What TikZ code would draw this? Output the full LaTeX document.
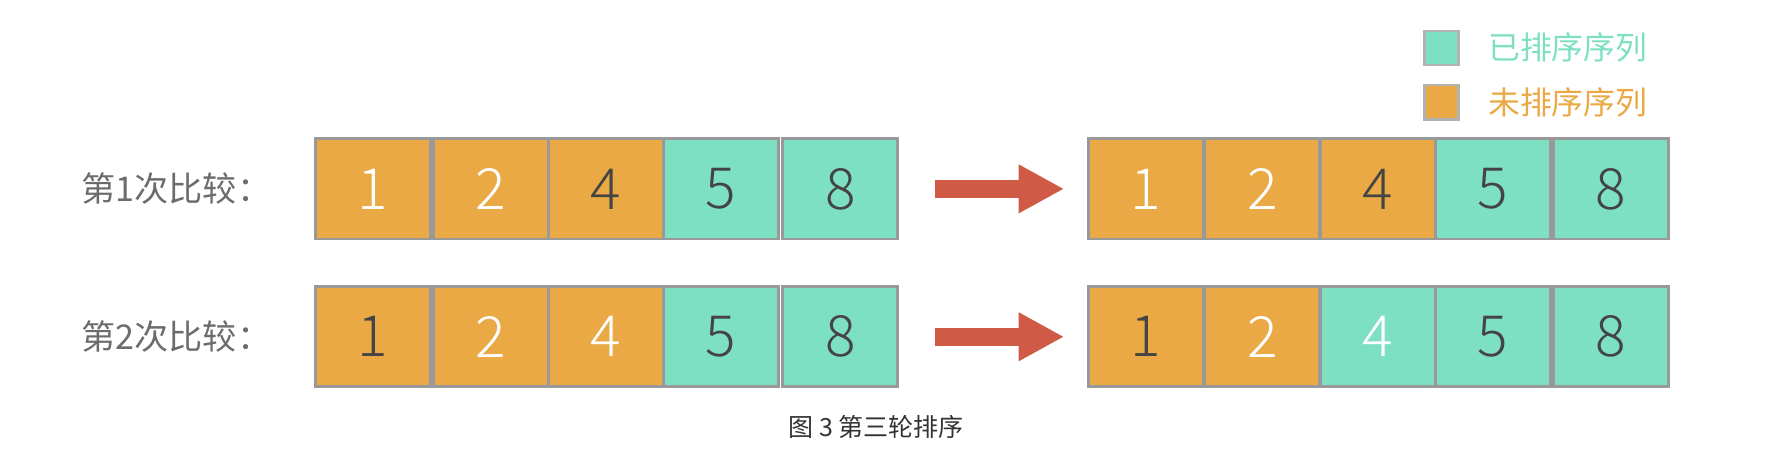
\documentclass[tikz,border=0pt]{standalone}
\usepackage{fontspec}
\setmainfont{Noto Sans CJK SC}
\newfontfamily\lightfont{Noto Sans CJK SC Light}
\usetikzlibrary{positioning,arrows.meta}
\definecolor{unsorted}{HTML}{EAA944}
\definecolor{sorted}{HTML}{7EE0C3}
\definecolor{digit}{HTML}{444444}
\definecolor{arrowred}{HTML}{CF5A45}
\begin{document}
\begin{tikzpicture}[x=0.5pt,y=-0.5pt,
		cell/.style={draw=gray!80,line width=1.2pt,minimum width=50.5pt,
			minimum height=44pt,inner sep=0pt,font=\lightfont\fontsize{25}{25}\selectfont},
		key/.style={draw=gray!60,line width=1pt,minimum width=15pt,minimum height=15pt,inner sep=0pt},
		rowlabel/.style={font=\fontsize{15}{15}\selectfont,text=gray!85!black},
		step arrow/.style={arrowred,line width=8pt,-{Triangle[length=20pt,width=20pt]}}]

		\useasboundingbox (0,0) rectangle (1568,396);

		% legend
		\node[key,fill=sorted] (k1) at (1267,42) {};
		\node[key,fill=unsorted] (k2) at (1267,90) {};
		\node[right=9pt of k1,font=\fontsize{14}{14}\selectfont,text=sorted] {已排序序列};
		\node[right=9pt of k2,font=\fontsize{14}{14}\selectfont,text=unsorted] {未排序序列};

		% rows: position / fill / digit colour
		\foreach \r/\y/\txt in {1/166/第1次比较：,2/296/第2次比较：}{
			\node[rowlabel] (lab\r) at (155,\y) {\txt};
		}
		\foreach \n/\x/\f/\c [count=\i] in {1/328/unsorted/white,2/431.5/unsorted/white,
				4/532.5/unsorted/digit,5/633.5/sorted/digit,8/738.5/sorted/digit}{
			\node[cell,fill=\f,text=\c] (a\i) at (\x,166) {\n};
		}
		\foreach \n/\x/\f/\c [count=\i] in {1/1007/unsorted/white,2/1109.5/unsorted/white,
				4/1211/unsorted/digit,5/1312/sorted/digit,8/1416/sorted/digit}{
			\node[cell,fill=\f,text=\c] (b\i) at (\x,166) {\n};
		}
		\foreach \n/\x/\f/\c [count=\i] in {1/328/unsorted/digit,2/431.5/unsorted/white,
				4/532.5/unsorted/white,5/633.5/sorted/digit,8/738.5/sorted/digit}{
			\node[cell,fill=\f,text=\c] (c\i) at (\x,296) {\n};
		}
		\foreach \n/\x/\f/\c [count=\i] in {1/1007/unsorted/digit,2/1109.5/unsorted/white,
				4/1211/sorted/white,5/1312/sorted/digit,8/1416/sorted/digit}{
			\node[cell,fill=\f,text=\c] (d\i) at (\x,296) {\n};
		}

		\draw[step arrow] ([xshift=16pt]a5.east) -- ([xshift=-10pt]b1.west);
		\draw[step arrow] ([xshift=16pt]c5.east) -- ([xshift=-10pt]d1.west);

		\node[font=\fontsize{11}{11}\selectfont,text=black!80] (cap) at (770,375) {图 3 第三轮排序};

	\end{tikzpicture}
\end{document}
